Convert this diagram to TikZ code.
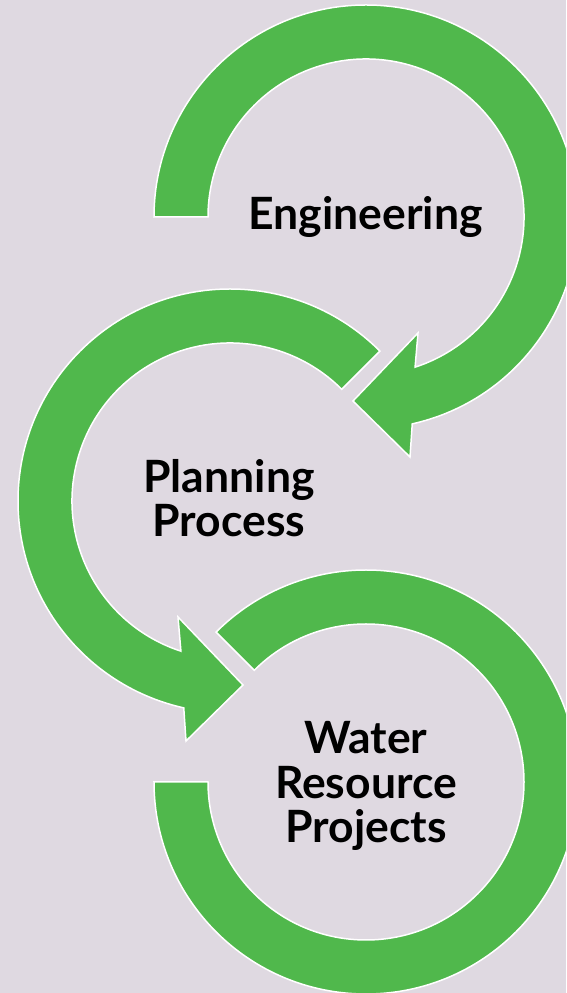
\documentclass[tikz,border=0pt]{standalone}
\usepackage{fontspec}
\setmainfont{Lato}[UprightFont=* Bold]
\usetikzlibrary{calc}
\definecolor{bgcol}{HTML}{DFD9E1}
\definecolor{arrowgreen}{HTML}{50B84C}
\tikzset{
  ringarrow/.style={fill=arrowgreen, draw=white, line width=1.5pt, line join=miter},
  label/.style={font=\fontsize{44.5}{44.5}\selectfont, text=black, align=center, inner sep=0pt, anchor=base}
}
\begin{document}
\begin{tikzpicture}[x=1pt,y=1pt]
\useasboundingbox (0,0) rectangle (566,993);
\fill[bgcol] (0,0) rectangle (566,993);
\clip (0,0) rectangle (566,993);
\coordinate (c1) at (366,776);
\coordinate (c2) at (230,492);
\coordinate (c3) at (366,211);
% arrow 1 (Engineering)
\path[ringarrow] ($(c1)+(180:212)$) arc[start angle=180, end angle=-77.4, radius=212]
  -- ($(c1)+(44,-240)$) -- ($(c1)+(-13,-184)$) -- ($(c1)+(52,-116)$)
  -- ($(c1)+(-71.9:158)$) arc[start angle=-71.9, end angle=180, radius=158] -- cycle;
% arrow 2 (Planning Process)
\path[ringarrow] ($(c2)+(45:212)$) arc[start angle=45, end angle=257.4, radius=212]
  -- ($(c2)+(-44,-240)$) -- ($(c2)+(13,-184)$) -- ($(c2)+(-52,-116)$)
  -- ($(c2)+(251.9:158)$) arc[start angle=251.9, end angle=45, radius=158] -- cycle;
% ring 3 (Water Resource Projects)
\path[ringarrow] ($(c3)+(180:212)$) arc[start angle=180, end angle=495, radius=212]
  -- ($(c3)+(135:158)$) arc[start angle=135, end angle=-180, radius=158] -- cycle;
\node[label] (eng) at (365.5,763) {Engineering};
\node[label] (plan) at (229,456) {Planning\\Process};
\node[label] (water) at (366,150) {Water\\Resource\\Projects};
\end{tikzpicture}
\end{document}
